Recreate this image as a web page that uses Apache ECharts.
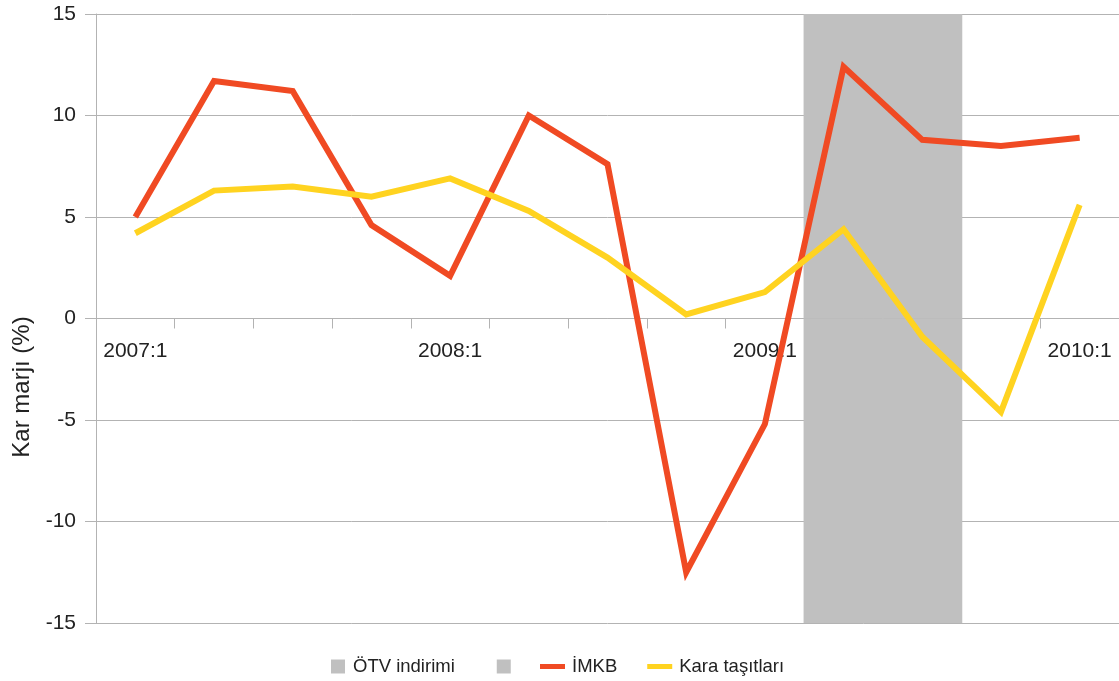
<!DOCTYPE html>
<html>
<head>
<meta charset="utf-8">
<script src="https://cdn.jsdelivr.net/npm/echarts@6/dist/echarts.min.js"></script>
<style>html,body{margin:0;padding:0;background:#fff}#c{width:1119px;height:681px}</style>
</head>
<body>
<div id="c"></div>
<script>
var categories = ['2007:1','2007:2','2007:3','2007:4','2008:1','2008:2','2008:3','2008:4','2009:1','2009:2','2009:3','2009:4','2010:1'];
var imkb = [5.0, 11.7, 11.2, 4.6, 2.1, 10.0, 7.6, -12.5, -5.2, 12.4, 8.8, 8.5, 8.9];
var karaTasitlari = [4.2, 6.3, 6.5, 6.0, 6.9, 5.3, 3.0, 0.2, 1.3, 4.4, -0.9, -4.6, 5.6];
var otvUpper = [null, null, null, null, null, null, null, null, null, 15, 15, null, null];
var otvLower = [null, null, null, null, null, null, null, null, null, -15, -15, null, null];
var yTicks = [-15, -10, -5, 0, 5, 10, 15];

var chart = echarts.init(document.getElementById('c'), null, {renderer: 'canvas'});
var font = 'Liberation Sans, Arial, sans-serif';
var gridColor = '#b3b3b3';
chart.setOption({
  animation: false,
  backgroundColor: '#ffffff',
  textStyle: {fontFamily: font},
  grid: {left: 96, right: 0, top: 14, bottom: 58, containLabel: false},
  graphic: [{
    type: 'text',
    x: 22, y: 387,
    rotation: Math.PI / 2,
    style: {text: 'Kar marjı (%)', font: '24px ' + font, fill: '#222', align: 'center', verticalAlign: 'middle'}
  }],
  legend: [{
    data: ['ÖTV indirimi', ' '],
    left: 331, top: 657, padding: 0,
    itemWidth: 14, itemHeight: 14, itemGap: 42,
    icon: 'rect',
    textStyle: {fontSize: 18.5, color: '#222', fontFamily: font, padding: [0, 0, 0, 3]}
  }, {
    data: ['İMKB', 'Kara taşıtları'],
    left: 540, top: 657, padding: 0,
    itemWidth: 25, itemHeight: 5, itemGap: 30,
    icon: 'rect',
    textStyle: {fontSize: 18.5, color: '#222', fontFamily: font, padding: [0, 0, 0, 2]}
  }],
  xAxis: {
    type: 'category',
    data: categories,
    boundaryGap: true,
    axisLine: {onZero: true, lineStyle: {color: gridColor, width: 1}},
    axisTick: {show: true, interval: 0, length: 10, lineStyle: {color: gridColor}},
    axisLabel: {interval: 3, fontSize: 21, color: '#222', margin: -282, fontFamily: font},
    splitLine: {show: false}
  },
  yAxis: {
    type: 'value',
    min: yTicks[0], max: yTicks[yTicks.length - 1], interval: 5,
    axisLine: {show: true, lineStyle: {color: gridColor, width: 1}},
    axisTick: {show: true, length: 11, lineStyle: {color: gridColor}},
    axisLabel: {fontSize: 21, color: '#222', margin: 20, fontFamily: font},
    splitLine: {show: true, lineStyle: {color: gridColor, width: 1}}
  },
  series: [{
    name: 'ÖTV indirimi', type: 'bar', stack: 'band', data: otvUpper,
    barWidth: 80, barGap: '0%', itemStyle: {color: '#c0c0c0'}, z: 1
  }, {
    name: ' ', type: 'bar', stack: 'band', data: otvLower,
    barWidth: 80, barGap: '0%', itemStyle: {color: '#c0c0c0'}, z: 1
  }, {
    name: 'İMKB', type: 'line', data: imkb, symbol: 'none',
    lineStyle: {color: '#f04a23', width: 6, join: 'miter'}, itemStyle: {color: '#f04a23'}, z: 3
  }, {
    name: 'Kara taşıtları', type: 'line', data: karaTasitlari, symbol: 'none',
    lineStyle: {color: '#ffd320', width: 6, join: 'miter'}, itemStyle: {color: '#ffd320'}, z: 3
  }]
});
</script>
</body>
</html>
